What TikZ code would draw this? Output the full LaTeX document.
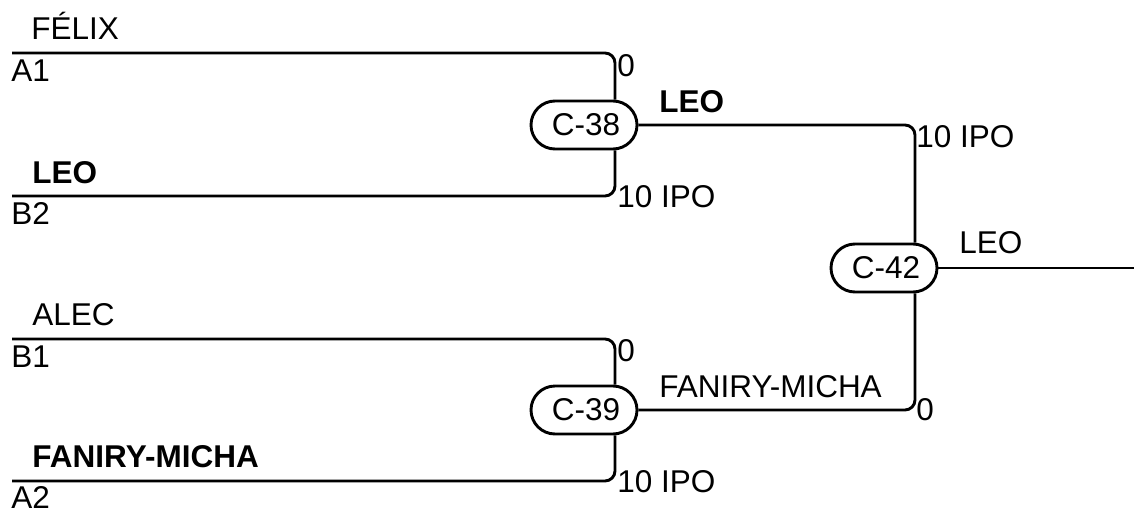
\documentclass[tikz,border=0pt]{standalone}
\usepackage{fontspec}
\setmainfont{Liberation Sans}
\newcommand{\labfont}{\fontsize{31.5}{36}\selectfont}
\begin{document}
\begin{tikzpicture}[x=1pt,y=-1pt,line width=2.9pt,
  match/.style={draw, rounded corners=24pt, minimum width=106pt, minimum height=48pt, inner sep=0pt, font=\labfont},
  lbl/.style={inner sep=0pt, anchor=base west, font=\labfont},
  blbl/.style={lbl, font=\labfont\bfseries},
  link/.style={rounded corners=10pt}]
\useasboundingbox (0,0) rectangle (1134,511);
% matches
\node[match] (C38) at (584,125) {\hspace*{4pt}C-38};
\node[match] (C39) at (584,410) {\hspace*{4pt}C-39};
\node[match] (C42) at (884,268) {\hspace*{4pt}C-42};
% entry points and columns
\coordinate (A1) at (12,53);
\coordinate (B2) at (12,196);
\coordinate (B1) at (12,339);
\coordinate (A2) at (12,481);
\coordinate (v1) at (615,0);
\coordinate (v2) at (915,0);
\coordinate (out) at (1134,268);
% connectors
\draw[link] (A1) -| (C38.north -| v1);
\draw[link] (B2) -| (C38.south -| v1);
\draw[link] (B1) -| (C39.north -| v1);
\draw[link] (A2) -| (C39.south -| v1);
\draw[link] (C38.east) -| (C42.north -| v2);
\draw[link] (C39.east) -| (C42.south -| v2);
\draw (C42.east) -- (out);
% left labels
\node[lbl]  (tFelix) at (30,40)    {FÉLIX};
\node[lbl]  (tA1)    at (10,81.5)  {A1};
\node[blbl] (tLeo)   at (31,183)   {LEO};
\node[lbl]  (tB2)    at (10,224.5) {B2};
\node[lbl]  (tAlec)  at (31,325)   {ALEC};
\node[lbl]  (tB1)    at (10,367.5) {B1};
\node[blbl] (tFan)   at (31,467)   {FANIRY-MICHA};
\node[lbl]  (tA2)    at (10,508.5) {A2};
% scores
\node[lbl] (s1) at (616,76)  {0};
\node[lbl] (s2) at (616,207) {10 IPO};
\node[lbl] (s3) at (616,361) {0};
\node[lbl] (s4) at (616,492) {10 IPO};
\node[lbl] (s5) at (915,147) {10 IPO};
\node[lbl] (s6) at (915,420) {0};
% winners
\node[blbl] (w38) at (658,112) {LEO};
\node[lbl]  (w39) at (658,397) {FANIRY-MICHA};
\node[lbl]  (w42) at (958,253) {LEO};
\end{tikzpicture}
\end{document}
